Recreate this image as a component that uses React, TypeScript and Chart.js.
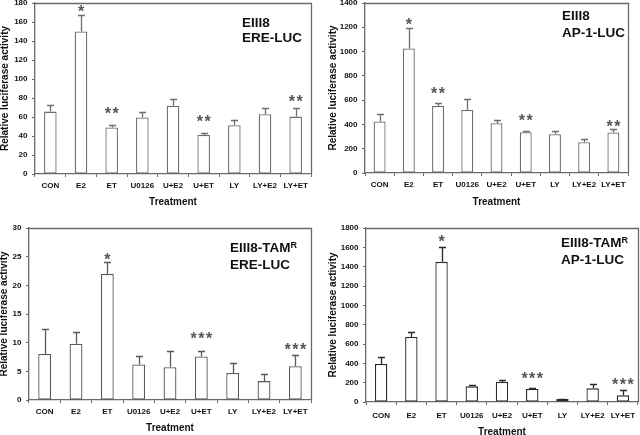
import React, { useEffect, useRef } from "react";
import { Chart, registerables } from "chart.js";

Chart.register(...registerables);

const FONT = "'Liberation Sans', Arial, Helvetica, sans-serif";

// ---------- data ----------
const treatments = ["CON", "E2", "ET", "U0126", "U+E2", "U+ET", "LY", "LY+E2", "LY+ET"];
const xAxisTitle = "Treatment";
const yAxisTitle = "Relative luciferase activity";

// Panel A: EIII8 ERE-LUC
const ereValues = [65.7, 150, 49, 59.6, 71.8, 41, 51.4, 62.9, 60.4];
const ereErrors = [7.3, 17, 2.8, 5.4, 7.2, 2.2, 5, 7.1, 9.6];
const ereStars = ["", "*", "**", "", "", "**", "", "", "**"];
const ereStarLevels = [0, 175, 68, 0, 0, 59, 0, 0, 80];
const ereMax = 180;
const ereStep = 20;

// Panel B: EIII8 AP-1-LUC
const ap1Values = [424, 1025, 552, 520, 410, 336, 320, 254, 334];
const ap1Errors = [60, 173, 28, 87, 30, 14, 27, 25, 27];
const ap1Stars = ["", "*", "**", "", "", "**", "", "", "**"];
const ap1StarLevels = [0, 1252, 684, 0, 0, 459, 0, 0, 416];
const ap1Max = 1400;
const ap1Step = 200;

// Panel C: EIII8-TAMR ERE-LUC
const tamEreValues = [8.04, 9.8, 22, 6.2, 5.7, 7.6, 4.7, 3.3, 5.9];
const tamEreErrors = [4.3, 2.1, 2.0, 1.55, 2.8, 0.9, 1.7, 1.2, 1.9];
const tamEreStars = ["", "", "*", "", "", "***", "", "", "***"];
const tamEreStarLevels = [0, 0, 25.2, 0, 0, 11.4, 0, 0, 9.4];
const tamEreMax = 30;
const tamEreStep = 5;

// Panel D: EIII8-TAMR AP-1-LUC
const tamAp1Values = [393, 672, 1450, 162, 207, 134, 31, 141, 69];
const tamAp1Errors = [69, 56, 152, 14, 24, 7, 3, 42, 59];
const tamAp1Stars = ["", "", "*", "", "", "***", "", "", "***"];
const tamAp1StarLevels = [0, 0, 1695, 0, 0, 276, 0, 0, 221];
const tamAp1Max = 1800;
const tamAp1Step = 200;

// ---------- plugin: error bars, significance stars, frame ----------
const errorStarPlugin = {
  id: "errorStars",
  afterDatasetsDraw(chart: any, _args: any, opts: any) {
    const { ctx } = chart;
    const y = chart.scales.y;
    const meta = chart.getDatasetMeta(0);
    const data = chart.data.datasets[0].data as number[];
    ctx.save();
    ctx.strokeStyle = opts.errColor;
    ctx.lineWidth = opts.lineWidth;
    meta.data.forEach((bar: any, i: number) => {
      const v = data[i];
      const e = opts.errors[i];
      const x = Math.round(bar.x) + 0.5;
      const y0 = y.getPixelForValue(v);
      const y1 = Math.round(y.getPixelForValue(v + e)) + 0.5;
      ctx.beginPath();
      ctx.moveTo(x, y0);
      ctx.lineTo(x, y1);
      ctx.moveTo(x - opts.cap, y1);
      ctx.lineTo(x + opts.cap, y1);
      ctx.stroke();
    });
    ctx.fillStyle = opts.starColor;
    ctx.font = `bold 16px ${FONT}`;
    ctx.textAlign = "center";
    ctx.textBaseline = "alphabetic";
    try {
      (ctx as any).letterSpacing = "1.5px";
    } catch (e) {
      /* ignore */
    }
    opts.stars.forEach((s: string, i: number) => {
      if (!s) return;
      const x = meta.data[i].x + 0.75;
      const yy = y.getPixelForValue(opts.starLevels[i]);
      ctx.fillText(s, x, yy + 0.57 * 16);
    });
    try {
      (ctx as any).letterSpacing = "0px";
    } catch (e) {
      /* ignore */
    }
    const a = chart.chartArea;
    ctx.strokeStyle = opts.frameColor;
    ctx.lineWidth = opts.lineWidth;
    ctx.beginPath();
    ctx.moveTo(a.left, Math.round(a.top) + 0.5);
    ctx.lineTo(Math.round(a.right) + 0.5, Math.round(a.top) + 0.5);
    ctx.lineTo(Math.round(a.right) + 0.5, a.bottom);
    ctx.stroke();
    ctx.restore();
  },
};

type Geo = {
  left: number;
  top: number;
  w: number;
  h: number;
  area: { l: number; t: number; r: number; b: number };
  xTitleY: number;
  yTitleX: number;
  xTickPad: number;
};

type PanelProps = {
  geo: Geo;
  values: number[];
  errors: number[];
  stars: string[];
  starLevels: number[];
  max: number;
  step: number;
  barColor: string;
};

function Panel({ geo, values, errors, stars, starLevels, max, step, barColor }: PanelProps) {
  const ref = useRef<HTMLCanvasElement | null>(null);
  useEffect(() => {
    if (!ref.current) return;
    const titleLH = 12;
    const xBottom = geo.xTitleY + titleLH / 2;
    const xHeight = xBottom - geo.area.b;
    const axisColor = "#6a6a6a";
    const chart = new Chart(ref.current, {
      type: "bar",
      data: {
        labels: treatments,
        datasets: [
          {
            data: values,
            backgroundColor: "#ffffff",
            borderColor: barColor,
            borderWidth: 1.3,
            borderSkipped: false,
            barPercentage: 0.41,
            categoryPercentage: 1,
          },
        ],
      },
      options: {
        responsive: false,
        animation: false,
        devicePixelRatio: 1,
        layout: {
          padding: {
            left: 0,
            top: geo.area.t,
            right: geo.w - geo.area.r,
            bottom: geo.h - xBottom,
          },
        },
        plugins: {
          legend: { display: false },
          tooltip: { enabled: false },
          errorStars: {
            errors,
            stars,
            starLevels,
            cap: 3.5,
            lineWidth: 1.3,
            errColor: barColor,
            starColor: "#555555",
            frameColor: axisColor,
          },
        } as any,
        scales: {
          x: {
            offset: true,
            grid: {
              display: true,
              offset: true,
              drawOnChartArea: false,
              drawTicks: true,
              tickLength: 3,
              color: axisColor,
              lineWidth: 1,
            },
            border: { display: true, color: axisColor, width: 1.3 },
            ticks: {
              color: "#111111",
              font: { family: FONT, size: 8, weight: "bold" },
              padding: geo.xTickPad,
              maxRotation: 0,
              autoSkip: false,
            },
            title: {
              display: true,
              text: xAxisTitle,
              color: "#111111",
              font: { family: FONT, size: 10, weight: "bold", lineHeight: 1.2 },
              padding: 0,
            },
            afterFit: (s: any) => {
              s.height = xHeight;
              s.paddingLeft = 0;
              s.paddingRight = 0;
            },
          },
          y: {
            min: 0,
            max,
            grid: {
              display: true,
              drawOnChartArea: false,
              drawTicks: true,
              tickLength: 3,
              color: axisColor,
              lineWidth: 1,
            },
            border: { display: true, color: axisColor, width: 1.3 },
            ticks: {
              stepSize: step,
              color: "#111111",
              font: { family: FONT, size: 8, weight: "bold" },
              padding: 4.5,
              callback: (v: any) => String(v),
            },
            title: {
              display: true,
              text: yAxisTitle,
              color: "#111111",
              font: { family: FONT, size: 10, weight: "bold", lineHeight: 1.2 },
              padding: { top: geo.yTitleX - 6, bottom: 0 },
            },
            afterFit: (s: any) => {
              s.width = geo.area.l;
              s.paddingTop = 0;
              s.paddingBottom = 0;
            },
          },
        } as any,
      },
      plugins: [errorStarPlugin],
    });
    return () => chart.destroy();
  }, []);
  return (
    <canvas
      ref={ref}
      width={geo.w}
      height={geo.h}
      style={{ position: "absolute", left: geo.left, top: geo.top, width: geo.w, height: geo.h }}
    />
  );
}

const geoA: Geo = { left: 0, top: 0, w: 320, h: 215, area: { l: 35, t: 3, r: 311, b: 174 }, xTitleY: 202, yTitleX: 5, xTickPad: 4.2 };
const geoB: Geo = { left: 320, top: 0, w: 320, h: 215, area: { l: 45, t: 3, r: 308, b: 173 }, xTitleY: 202, yTitleX: 13, xTickPad: 4.2 };
const geoC: Geo = { left: 0, top: 215, w: 320, h: 225, area: { l: 29, t: 13, r: 311, b: 185 }, xTitleY: 213, yTitleX: 4, xTickPad: 4.2 };
const geoD: Geo = { left: 320, top: 215, w: 320, h: 225, area: { l: 46, t: 13, r: 318, b: 187 }, xTitleY: 217, yTitleX: 13, xTickPad: 6 };

const titleStyle = (left: number, top: number, lh: number): React.CSSProperties => ({
  position: "absolute",
  left,
  top,
  font: `bold 13.5px ${FONT}`,
  lineHeight: `${lh}px`,
  color: "#111111",
  whiteSpace: "nowrap",
});

const supStyle: React.CSSProperties = { fontSize: 9, position: "relative", top: -4 };

export default function App() {
  return (
    <div
      style={{
        position: "fixed",
        left: 0,
        top: 0,
        width: 640,
        height: 435,
        overflow: "hidden",
        background: "#ffffff",
      }}
    >
      <Panel geo={geoA} values={ereValues} errors={ereErrors} stars={ereStars} starLevels={ereStarLevels} max={ereMax} step={ereStep} barColor="#6e6e6e" />
      <Panel geo={geoB} values={ap1Values} errors={ap1Errors} stars={ap1Stars} starLevels={ap1StarLevels} max={ap1Max} step={ap1Step} barColor="#6e6e6e" />
      <Panel geo={geoC} values={tamEreValues} errors={tamEreErrors} stars={tamEreStars} starLevels={tamEreStarLevels} max={tamEreMax} step={tamEreStep} barColor="#5a5a5a" />
      <Panel geo={geoD} values={tamAp1Values} errors={tamAp1Errors} stars={tamAp1Stars} starLevels={tamAp1StarLevels} max={tamAp1Max} step={tamAp1Step} barColor="#2a2a2a" />
      <div style={titleStyle(242, 14.5, 15)}>
        EIII8
        <br />
        ERE-LUC
      </div>
      <div style={titleStyle(562, 6.5, 17)}>
        EIII8
        <br />
        AP-1-LUC
      </div>
      <div style={titleStyle(230, 239.5, 16)}>
        EIII8-TAM<span style={supStyle}>R</span>
        <br />
        ERE-LUC
      </div>
      <div style={titleStyle(561, 234.5, 16)}>
        EIII8-TAM<span style={supStyle}>R</span>
        <br />
        AP-1-LUC
      </div>
    </div>
  );
}
